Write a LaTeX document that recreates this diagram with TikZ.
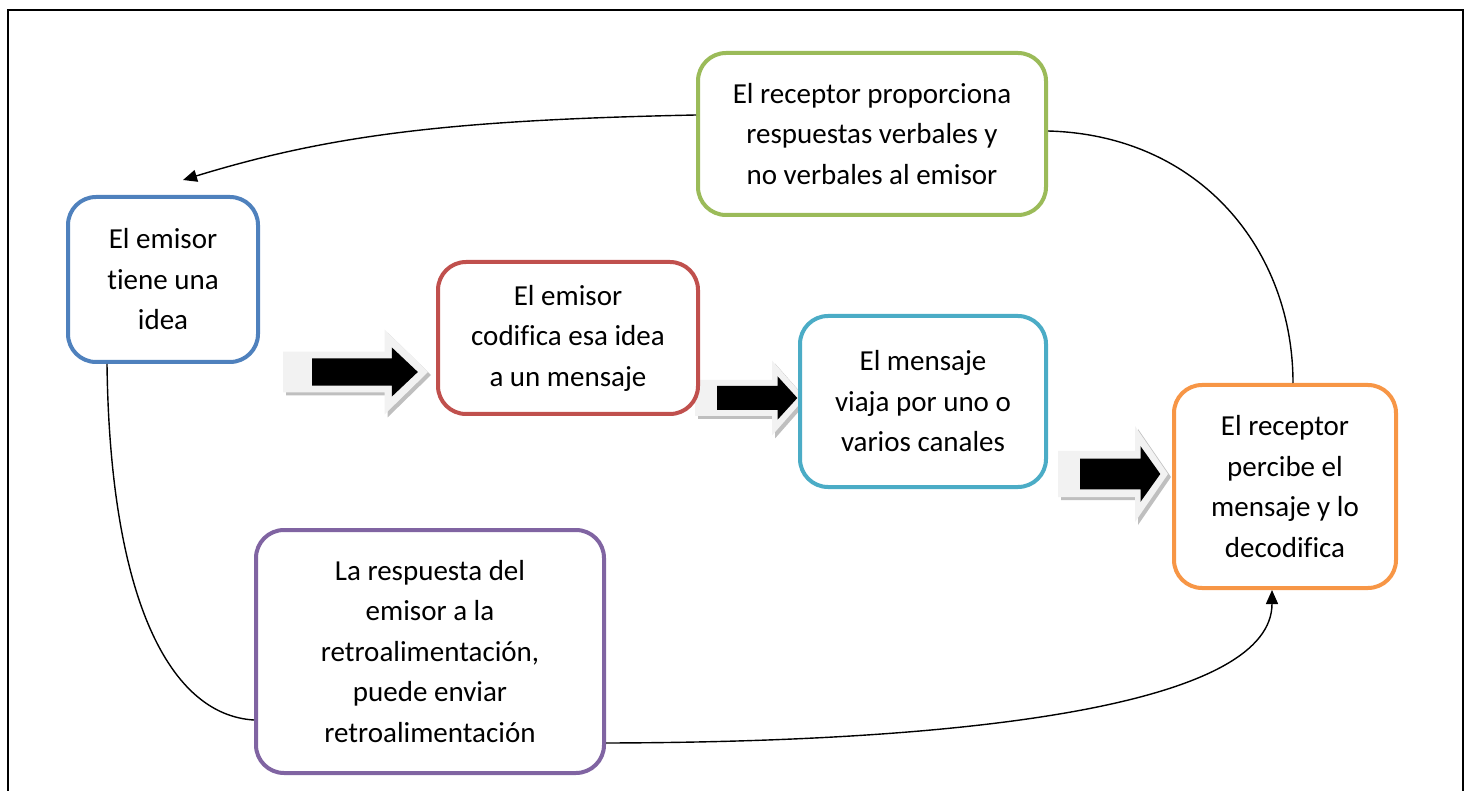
\documentclass[tikz,border=0pt]{standalone}
\usepackage{fontspec}
\setmainfont[Ligatures=NoCommon]{Carlito}
\usetikzlibrary{arrows.meta}
\definecolor{cblue}{HTML}{4F81BD}
\definecolor{cred}{HTML}{C0504D}
\definecolor{cgreen}{HTML}{9BBB59}
\definecolor{cpurple}{HTML}{8064A2}
\definecolor{caqua}{HTML}{4BACC6}
\definecolor{corange}{HTML}{F79646}
\definecolor{arrowface}{HTML}{F2F2F2}
\definecolor{arrowshadow}{HTML}{BFBFBF}
\tikzset{
  box/.style={draw, line width=4pt, rounded corners=28pt, fill=white, align=center,
    inner sep=0pt, font=\fontsize{29}{40.5}\selectfont},
  link/.style={line width=1.4pt, draw=black},
  tipped/.style={-{Triangle[length=14pt,width=12pt]}}
}
\newcommand{\blockarrow}[4]{%
  \foreach \dx/\col in {3/arrowshadow,0/arrowface}{%
    \fill[\col, shift={(#1+\dx,#2+\dx)}, xscale=#3, yscale=#4]
      (0,-0.24) -- (0.70,-0.24) -- (0.70,-0.5) -- (1,0) -- (0.70,0.5) -- (0.70,0.24) -- (0,0.24) -- cycle;}
  \fill[black, shift={(#1,#2)}, xscale=#3, yscale=#4]
    (0.2,-0.16) -- (0.75,-0.16) -- (0.75,-0.29) -- (0.93,0) -- (0.75,0.29) -- (0.75,0.16) -- (0.2,0.16) -- cycle;
}
\begin{document}
\begin{tikzpicture}[x=1pt,y=-1pt]
\useasboundingbox (0,0) rectangle (1465,791);
\draw[line width=2pt] (8,800) -- (8,10) -- (1463,10) -- (1463,800);

\blockarrow{283}{372}{145}{85}
\blockarrow{695}{398}{110}{75}
\blockarrow{1058}{474}{110}{96}

\node[box, draw=cblue, minimum width=190pt, minimum height=165pt] (idea) at (163,279.5) {El emisor\\tiene una\\idea};
\node[box, draw=cred, minimum width=260pt, minimum height=152pt] (cod) at (568,338) {El emisor\\codifica esa idea\\a un mensaje};
\node[box, draw=caqua, minimum width=246pt, minimum height=171pt] (canal) at (923,401.5) {El mensaje\\viaja por uno o\\varios canales};
\node[box, draw=corange, minimum width=222pt, minimum height=203pt] (rec) at (1285,486.5) {El receptor\\percibe el\\mensaje y lo\\decodifica};
\node[box, draw=cgreen, minimum width=348pt, minimum height=162pt] (fb) at (872,134) {El receptor proporciona\\respuestas verbales y\\no verbales al emisor};
\node[box, draw=cpurple, minimum width=348pt, minimum height=243pt] (resp) at (430,651.5) {La respuesta del\\emisor a la\\retroalimentación,\\puede enviar\\retroalimentación};

\coordinate (fbtip) at (183,180);
\draw[link, tipped] ([yshift=19pt]fb.west) .. controls (450,120) and (330,135) .. (fbtip);
\draw[link] ([yshift=3pt]fb.east) .. controls (1200,135) and (1293,250) .. ([xshift=8pt]rec.north);
\draw[link] ([xshift=-56pt]idea.south) .. controls (110,600) and (170,715) .. ([yshift=-68.5pt]resp.west);
\draw[link, tipped] ([yshift=-91.5pt]resp.east) .. controls (1000,742) and (1272,700) .. ([xshift=-13pt]rec.south);
\end{tikzpicture}
\end{document}
